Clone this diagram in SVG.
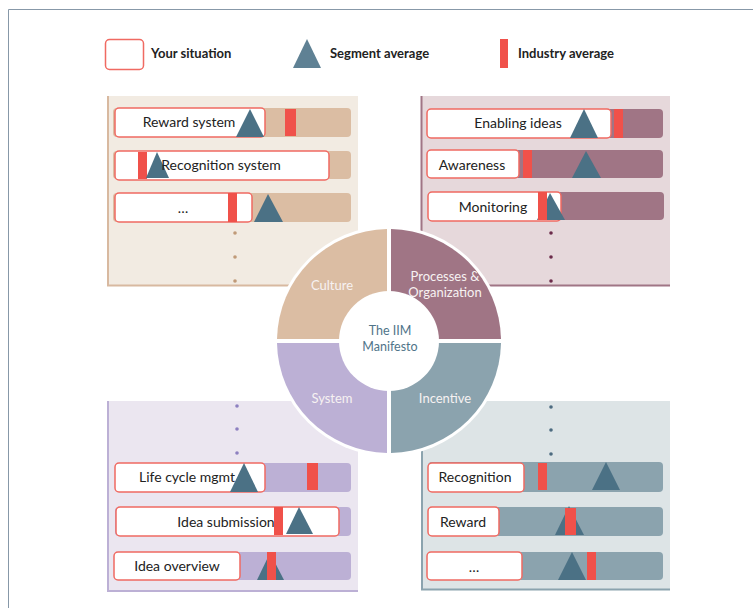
<svg xmlns="http://www.w3.org/2000/svg" width="753" height="608" viewBox="0 0 753 608">
<style>
text{font-family:Lato,"Noto Sans","Liberation Sans",sans-serif;}
.lbl{font-size:14px;fill:#222;text-anchor:middle;}
.leg{font-size:13px;font-weight:bold;fill:#222;}
.box{fill:#fff;stroke:#f06a62;stroke-width:1.5;}
.tri{fill:#4b7185;}
.ind{fill:#f0514a;}
.seg{font-size:13px;fill:#f7f2f2;text-anchor:middle;}
.ctr{font-size:12.5px;fill:#4f7489;text-anchor:middle;}
</style>
<rect x="0" y="0" width="753" height="608" fill="#fff"/>
<path d="M8.5,608 V9.5 H753" fill="none" stroke="#8798a8" stroke-width="1"/>

<g id="legend">
<rect class="box" x="105.5" y="39.5" width="38" height="30" rx="4"/>
<text class="leg" x="151" y="58">Your situation</text>
<polygon points="307,39 293,68 321,68" fill="#5f8194"/>
<text class="leg" x="330" y="58">Segment average</text>
<rect class="ind" x="500" y="39" width="8" height="29"/>
<text class="leg" x="518" y="58">Industry average</text>
</g>

<g id="panel-culture">
<rect x="107" y="96" width="251" height="190" fill="#f2ebe2"/>
<path d="M108,96 V285.5 H358" fill="none" stroke="#d8b9a0" stroke-width="2"/>
<rect x="113" y="108" width="238" height="29" rx="4" fill="#dbbda3"/>
<rect class="box" x="115" y="108" width="150" height="29" rx="4"/>
<text class="lbl" x="189" y="127">Reward system</text>
<polygon class="tri" points="250,109 236,137 264,137"/>
<rect class="ind" x="285" y="109" width="11" height="27"/>
<rect x="113" y="151" width="238" height="28" rx="4" fill="#dbbda3"/>
<rect class="box" x="115" y="151" width="214" height="29" rx="4"/>
<rect class="ind" x="138" y="152" width="9" height="27"/>
<polygon class="tri" points="157,152 146,178 169,178"/>
<text class="lbl" x="221" y="170">Recognition system</text>
<rect x="113" y="193" width="238" height="29" rx="4" fill="#dbbda3"/>
<rect class="box" x="115" y="193" width="137" height="29" rx="4"/>
<text class="lbl" x="183" y="213">…</text>
<rect class="ind" x="228" y="193" width="9" height="29"/>
<polygon class="tri" points="268,194 254,222 283,222"/>
<circle cx="235" cy="233" r="1.8" fill="#c09a78"/>
<circle cx="235" cy="257" r="1.8" fill="#c09a78"/>
<circle cx="235" cy="281" r="1.8" fill="#c09a78"/>
</g>

<g id="panel-processes">
<rect x="421" y="96" width="249" height="190" fill="#e6d8db"/>
<path d="M421.5,96 V285.5 H670" fill="none" stroke="#a07585" stroke-width="2"/>
<rect x="427" y="109" width="236" height="29" rx="4" fill="#a07585"/>
<rect class="box" x="427" y="109" width="184" height="29" rx="4"/>
<text class="lbl" x="518" y="128">Enabling ideas</text>
<polygon class="tri" points="584,109 570,138 598,138"/>
<rect class="ind" x="614" y="109" width="9" height="29"/>
<rect x="427" y="150" width="236" height="28" rx="4" fill="#a07585"/>
<rect class="box" x="427" y="150" width="92" height="28" rx="4"/>
<text class="lbl" x="472" y="170">Awareness</text>
<rect class="ind" x="523" y="150" width="9" height="28"/>
<polygon class="tri" points="586,151 572,178 601,178"/>
<rect x="428" y="192" width="236" height="28" rx="4" fill="#a07585"/>
<rect class="box" x="428" y="192" width="133" height="29" rx="4"/>
<text class="lbl" x="493" y="212">Monitoring</text>
<polygon class="tri" points="550,193 537,220 565,220"/>
<rect class="ind" x="538" y="192" width="9" height="28"/>
<circle cx="551" cy="233" r="1.8" fill="#6b2b4a"/>
<circle cx="551" cy="257" r="1.8" fill="#6b2b4a"/>
<circle cx="551" cy="281" r="1.8" fill="#6b2b4a"/>
</g>

<g id="panel-system">
<rect x="107" y="401" width="251" height="190" fill="#ebe6f0"/>
<path d="M108,401 V591 H358" fill="none" stroke="#bcb0d5" stroke-width="2"/>
<circle cx="237" cy="406" r="1.8" fill="#8d80c0"/>
<circle cx="237" cy="429" r="1.8" fill="#8d80c0"/>
<circle cx="237" cy="453" r="1.8" fill="#8d80c0"/>
<rect x="115" y="463" width="236" height="29" rx="4" fill="#bcb0d5"/>
<rect class="box" x="115" y="463" width="150" height="29" rx="4"/>
<text class="lbl" x="187" y="482">Life cycle mgmt</text>
<polygon class="tri" points="244,463 230,492 258,492"/>
<rect class="ind" x="307" y="463" width="11" height="27"/>
<rect x="115" y="507" width="236" height="29" rx="4" fill="#bcb0d5"/>
<rect class="box" x="116" y="507" width="223" height="29" rx="4"/>
<text class="lbl" x="226" y="527">Idea submission</text>
<rect class="ind" x="274" y="507" width="9" height="28"/>
<polygon class="tri" points="299,507 286,534 313,534"/>
<rect x="114" y="552" width="237" height="28" rx="4" fill="#bcb0d5"/>
<rect class="box" x="114" y="552" width="126" height="28" rx="4"/>
<text class="lbl" x="177" y="571">Idea overview</text>
<polygon class="tri" points="270,553 257,580 284,580"/>
<rect class="ind" x="267" y="552" width="9" height="28"/>
</g>

<g id="panel-incentive">
<rect x="421" y="401" width="249" height="189" fill="#dde4e6"/>
<path d="M422,401 V589.5 H670" fill="none" stroke="#8ba3ae" stroke-width="2"/>
<circle cx="551" cy="407" r="1.8" fill="#4d6b80"/>
<circle cx="551" cy="430" r="1.8" fill="#4d6b80"/>
<circle cx="551" cy="454" r="1.8" fill="#4d6b80"/>
<rect x="428" y="462" width="235" height="30" rx="4" fill="#8ba3ae"/>
<rect class="box" x="428" y="463" width="96" height="29" rx="4"/>
<text class="lbl" x="475" y="482">Recognition</text>
<rect class="ind" x="538" y="463" width="9" height="27"/>
<polygon class="tri" points="606,462 592,490 620,490"/>
<rect x="428" y="507" width="235" height="29" rx="4" fill="#8ba3ae"/>
<rect class="box" x="428" y="507" width="71" height="29" rx="4"/>
<text class="lbl" x="463" y="527">Reward</text>
<polygon class="tri" points="569,506 555,535 584,535"/>
<rect class="ind" x="565" y="508" width="11" height="27"/>
<rect x="427" y="552" width="236" height="28" rx="4" fill="#8ba3ae"/>
<rect class="box" x="427" y="552" width="95" height="28" rx="4"/>
<text class="lbl" x="474" y="572">…</text>
<polygon class="tri" points="572,552 558,580 586,580"/>
<rect class="ind" x="587" y="552" width="9" height="28"/>
</g>

<g id="wheel">
<circle cx="389" cy="341" r="115" fill="#fff"/>
<g id="q-culture"><path d="M387,339 V229 A112,112 0 0 0 277,339 Z" fill="#dbbda3"/><text class="seg" x="332" y="290">Culture</text></g>
<g id="q-processes"><path d="M391,339 V229 A112,112 0 0 1 501,339 Z" fill="#a07585"/><text class="seg" x="445" y="281">Processes &amp;</text><text class="seg" x="445" y="297">Organization</text></g>
<g id="q-system"><path d="M387,343 V453 A112,112 0 0 1 277,343 Z" fill="#bcb0d5"/><text class="seg" x="332" y="403">System</text></g>
<g id="q-incentive"><path d="M391,343 V453 A112,112 0 0 0 501,343 Z" fill="#8ba3ae"/><text class="seg" x="445" y="403">Incentive</text></g>
<g id="center"><circle cx="389" cy="341" r="50" fill="#fff"/>
<text class="ctr" x="390" y="335">The IIM</text>
<text class="ctr" x="390" y="350.5">Manifesto</text></g>
</g>
</svg>
